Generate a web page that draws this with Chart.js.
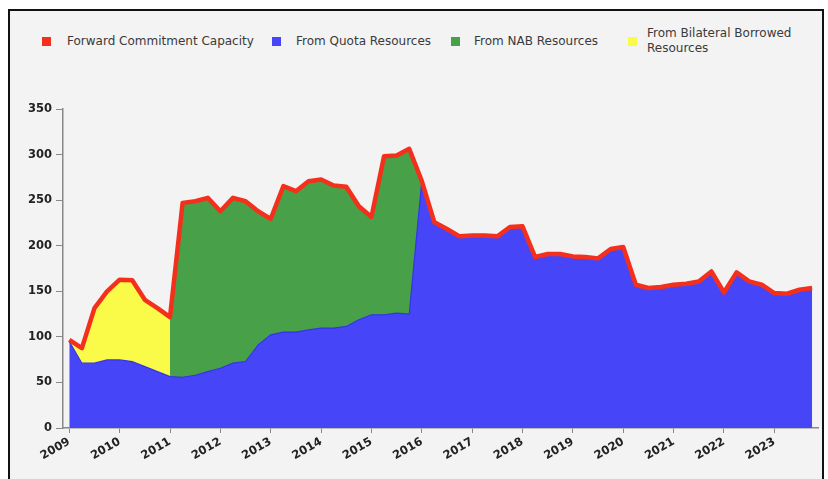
<!DOCTYPE html>
<html>
<head>
<meta charset="utf-8">
<script src="https://cdn.jsdelivr.net/npm/chart.js@4.4.1/dist/chart.umd.min.js"></script>
<style>
body { margin: 0; background: #fff; width: 828px; height: 479px; overflow: hidden; position: relative; font-family: "DejaVu Sans", sans-serif; }
#frame { position: absolute; left: 8px; top: 9px; width: 812px; height: 480px; border: 2px solid #111; border-bottom: none; background: #f3f3f3; }
#chartBox { position: absolute; left: 0; top: 0; width: 828px; height: 479px; }
.sw { position: absolute; width: 9px; height: 9px; }
.lt { position: absolute; font-size: 12px; color: #3a3a3a; line-height: 15px; }
</style>
</head>
<body>
<div id="frame"></div>
<div id="legend"></div>
<div id="chartBox"><canvas id="chart1Vis"></canvas></div>
<script>
// quarterly, 2009Q1 .. 2023Q4
var years = ['2009', '2010', '2011', '2012', '2013', '2014', '2015', '2016',
             '2017', '2018', '2019', '2020', '2021', '2022', '2023'];
var quarters = [];
years.forEach(function (y) {
    ['Q1', 'Q2', 'Q3', 'Q4'].forEach(function (q) { quarters.push(y + q); });
});

var seriesNames = ['Forward Commitment Capacity', 'From Quota Resources',
                   'From NAB Resources', 'From Bilateral Borrowed Resources'];
var seriesColors = ['#f4301c', '#4646f8', '#48a048', '#fafa48'];

var total = [96.7, 87.6, 131.6, 149.8, 162.7, 162.0, 140.7, 131.6,
             121.7, 247.0, 248.8, 252.5, 237.8, 252.5, 248.8, 237.8,
             229.4, 265.3, 259.8, 270.8, 272.6, 266.0, 264.6, 243.3,
             231.6, 298.2, 299.0, 306.4, 270.8, 225.7, 218.4, 210.3,
             211.1, 211.1, 210.3, 220.6, 221.3, 187.6, 190.9, 190.9,
             188.3, 187.6, 186.1, 196.4, 198.6, 157.2, 153.6, 154.7,
             157.2, 158.3, 160.8, 171.8, 148.7, 170.7, 160.8, 157.2,
             148.1, 147.3, 151.7, 153.6];

var quota = [94.9, 71.1, 71.1, 74.7, 74.7, 72.9, 67.4, 61.9,
             56.4, 55.7, 57.9, 61.9, 65.6, 71.1, 72.9, 91.2,
             102.2, 105.2, 105.2, 107.7, 109.6, 109.6, 111.4, 118.7,
             124.2, 124.2, 126.1, 125.0, 270.8, 225.7, 218.4, 210.3,
             211.1, 211.1, 210.3, 220.6, 221.3, 187.6, 190.9, 190.9,
             188.3, 187.6, 186.1, 196.4, 198.6, 157.2, 153.6, 154.7,
             157.2, 158.3, 160.8, 171.8, 148.7, 170.7, 160.8, 157.2,
             148.1, 147.3, 151.7, 153.6];

var nab = [null, null, null, null, null, null, null, null,
           0, 191.3, 190.9, 190.6, 172.2, 181.4, 175.9, 146.6,
           127.2, 160.1, 154.6, 163.1, 163.0, 156.4, 153.2, 124.6,
           107.4, 174.0, 172.9, 181.4, 0];

var bilateral = [1.8, 16.5, 60.5, 75.1, 88.0, 89.1, 73.3, 69.7, 65.3];

// top edge of each filled band (areas are drawn from zero, front to back)
var nabTop = quarters.map(function (q, i) {
    if (nab[i] === undefined || nab[i] === null) return null;
    return quota[i] + (bilateral[i] || 0) + nab[i];
});
var bilateralTop = quarters.map(function (q, i) {
    if (bilateral[i] === undefined) return null;
    return quota[i] + bilateral[i];
});

// html legend
var legend = document.getElementById('legend');
var swLeft = [42, 272, 451, 628];
var txtLeft = [67, 296, 474, 647];
seriesNames.forEach(function (name, i) {
    var sw = document.createElement('div');
    sw.className = 'sw';
    sw.style.left = swLeft[i] + 'px';
    sw.style.top = '37px';
    sw.style.background = seriesColors[i];
    legend.appendChild(sw);
    var t = document.createElement('div');
    t.className = 'lt';
    t.style.left = txtLeft[i] + 'px';
    if (i === 3) {
        t.style.top = '26px';
        t.style.width = '160px';
    } else {
        t.style.top = '34px';
        t.style.whiteSpace = 'nowrap';
    }
    t.textContent = name;
    legend.appendChild(t);
});

var ctx = document.getElementById('chart1Vis').getContext('2d');
var tickFont = { family: 'DejaVu Sans', size: 11.5, weight: 'bold' };

var myChart = new Chart(ctx, {
    type: 'line',
    data: {
        labels: quarters,
        datasets: [
            {
                label: seriesNames[0],
                data: total,
                borderColor: seriesColors[0],
                borderWidth: 4.5,
                fill: false,
                pointRadius: 0,
                borderJoinStyle: 'round'
            },
            {
                label: seriesNames[1],
                data: quota,
                borderColor: '#3535e6',
                borderWidth: 1.2,
                backgroundColor: seriesColors[1],
                fill: 'origin',
                pointRadius: 0
            },
            {
                label: seriesNames[2],
                data: nabTop,
                borderWidth: 0,
                backgroundColor: seriesColors[2],
                fill: 'origin',
                pointRadius: 0
            },
            {
                label: seriesNames[3],
                data: bilateralTop,
                borderWidth: 0,
                backgroundColor: seriesColors[3],
                fill: 'origin',
                pointRadius: 0
            }
        ]
    },
    options: {
        responsive: true,
        maintainAspectRatio: false,
        animation: false,
        layout: { padding: { top: 109, right: 9.6, bottom: 0, left: 0 } },
        plugins: {
            legend: { display: false },
            tooltip: { enabled: false }
        },
        scales: {
            x: {
                type: 'category',
                offset: true,
                afterFit: function (s) { s.height = 51; },
                border: { display: true, color: '#888', width: 1.5 },
                grid: {
                    drawOnChartArea: false,
                    drawTicks: true,
                    tickLength: 5,
                    color: function (c) { return c.index % 4 === 0 ? '#888' : 'rgba(0,0,0,0)'; }
                },
                ticks: {
                    autoSkip: false,
                    maxRotation: 30,
                    minRotation: 30,
                    padding: 2,
                    color: '#222',
                    font: tickFont,
                    callback: function (v, i) { return i % 4 === 0 ? quarters[i].slice(0, 4) : ''; }
                }
            },
            y: {
                min: 0,
                max: 350,
                afterFit: function (s) { s.width = 63; },
                border: { display: true, color: '#888', width: 1.5 },
                grid: { drawOnChartArea: false, drawTicks: true, tickLength: 7, color: '#888' },
                ticks: {
                    stepSize: 50,
                    padding: 4,
                    color: '#222',
                    font: tickFont
                }
            }
        }
    }
});
</script>
</body>
</html>
